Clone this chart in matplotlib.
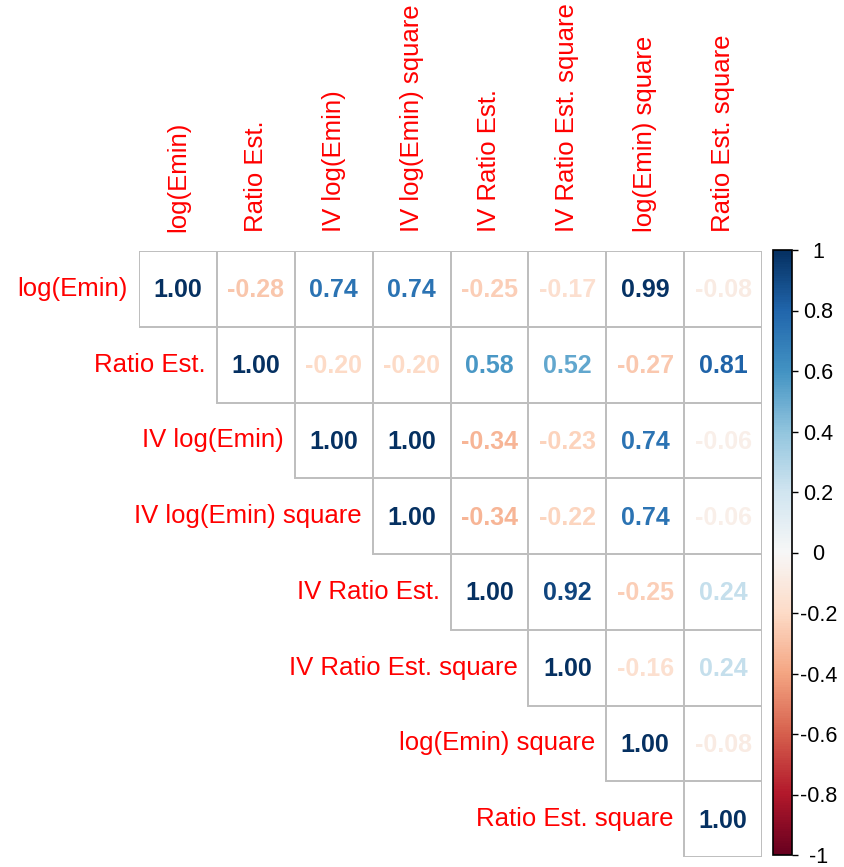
import numpy as np
import matplotlib.pyplot as plt
from matplotlib.patches import Rectangle
import matplotlib as mpl

plt.rcParams['font.family'] = ['Liberation Sans', 'DejaVu Sans']

names = ['log(Emin)', 'Ratio Est.', 'IV log(Emin)', 'IV log(Emin) square',
         'IV Ratio Est.', 'IV Ratio Est. square', 'log(Emin) square', 'Ratio Est. square']

# upper triangle of the correlation matrix, row by row (from the diagonal)
row0 = [1.00, -0.28, 0.74, 0.74, -0.25, -0.17, 0.99, -0.08]
row1 = [1.00, -0.20, -0.20, 0.58, 0.52, -0.27, 0.81]
row2 = [1.00, 1.00, -0.34, -0.23, 0.74, -0.06]
row3 = [1.00, -0.34, -0.22, 0.74, -0.06]
row4 = [1.00, 0.92, -0.25, 0.24]
row5 = [1.00, -0.16, 0.24]
row6 = [1.00, -0.08]
row7 = [1.00]
rows = [row0, row1, row2, row3, row4, row5, row6, row7]

n = len(names)
W, H = 844, 867
fig = plt.figure(figsize=(W / 100, H / 100), dpi=100)
ax = fig.add_axes([139 / W, 1 - 857 / H, (762 - 139) / W, (857 - 251) / H])
ax.set_xlim(0, n)
ax.set_ylim(n, 0)
ax.axis('off')

cmap = mpl.colormaps['RdBu']
norm = mpl.colors.Normalize(-1, 1)

for i, r in enumerate(rows):
    for k, v in enumerate(r):
        j = i + k
        ax.add_patch(Rectangle((j, i), 1, 1, fill=False, edgecolor='#bebebe', lw=1.4))
        ax.text(j + 0.5, i + 0.52, '{:.2f}'.format(v), ha='center', va='center',
                fontsize=18, fontweight='bold', color=cmap(norm(v)))
    # row label, right-aligned next to the diagonal cell
    ax.text(i - 0.14, i + 0.5, names[i], ha='right', va='center', color='red', fontsize=18.5)

# column labels on top
for j in range(n):
    ax.text(j + 0.5, -0.25, names[j], ha='center', va='bottom', rotation=90,
            color='red', fontsize=18.5)

# colour bar
cax = fig.add_axes([773 / W, 1 - 855 / H, (792 - 773) / W, (855 - 250) / H])
cb = mpl.colorbar.ColorbarBase(cax, cmap=cmap, norm=norm)
ticks = np.round(np.arange(-1, 1.01, 0.2), 1)
cb.set_ticks(ticks)
cb.set_ticklabels(['{:g}'.format(t) if abs(t) > 1e-9 else '0' for t in ticks])
cb.outline.set_linewidth(1.2)
cax.tick_params(labelsize=15.5, length=4.5, width=1, pad=14.5)
for lbl in cax.get_yticklabels():
    lbl.set_ha('center')

fig.savefig('out.png', dpi=100)
